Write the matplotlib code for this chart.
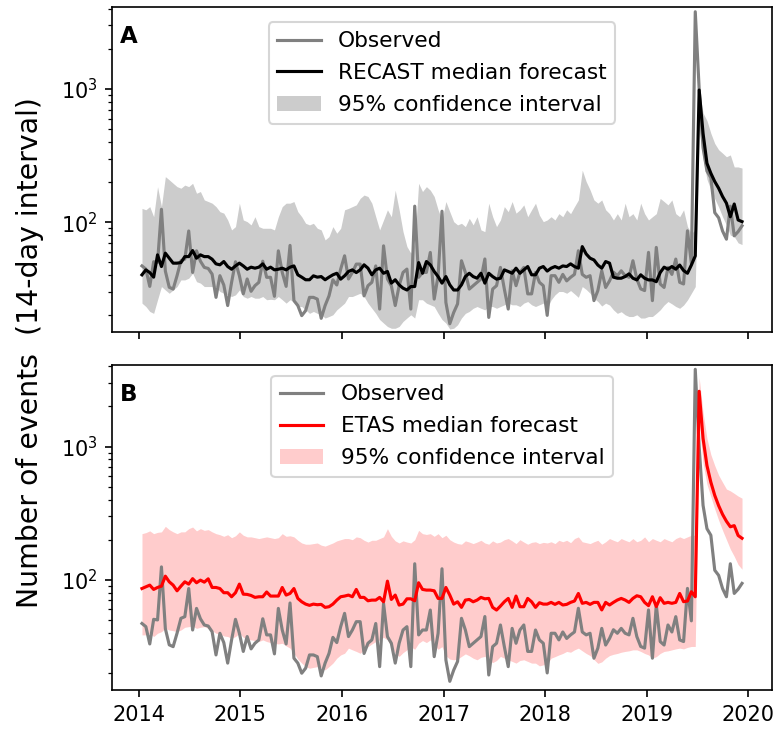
import numpy as np
import pandas as pd
import matplotlib
matplotlib.use("Agg")
import matplotlib.pyplot as plt
import matplotlib.dates as mdates

# 14-day bins, Jan 2014 - Dec 2019
dates = pd.date_range("2014-01-13", periods=155, freq="14D")

observed = [
    47, 44.5, 33, 50.5, 50, 125, 43, 32.5, 31.5, 39.7,
    51.4, 52.9, 86, 42, 61, 51, 45.8, 45, 40.8, 27.3,
    39.7, 33.8, 23.7, 35.4, 50.5, 39.7, 29, 37.5, 30.3, 33.4,
    35.4, 51, 38.6, 38.6, 27.8, 61, 42, 33, 67, 25.8,
    23.7, 19.9, 21.7, 27.3, 27.3, 26.5, 19, 23.7, 28, 37,
    33.8, 44.5, 56, 37.5, 42, 48.5, 48.5, 28, 33.4, 35.4,
    47, 22.3, 66.5, 37.5, 33.4, 23.7, 33.4, 42, 44.5, 22.3,
    132, 38.6, 42, 42, 59.3, 26.5, 39.7, 121, 25, 17.3,
    21, 24.4, 51.4, 42, 31.5, 33.4, 35.4, 37.5, 53, 19.3,
    31.5, 33.4, 45.8, 31.5, 22.3, 43.2, 33.4, 42, 45.8, 29,
    29, 42, 35.4, 33.4, 20, 39.7, 39.7, 35.4, 40.6, 36.3,
    38.6, 40.6, 61.1, 40.6, 38.6, 39.7, 25.8, 30.7, 43.2, 32.4,
    36.3, 42.2, 39.7, 43.2, 39.7, 38.6, 51.4, 37.5, 31.6, 30.7,
    59.4, 25.8, 64.7, 34.4, 32.4, 45.8, 40.6, 52.9, 35.4, 34.4,
    86.2, 49.2, 3800, 1000, 362, 242, 216, 118, 108, 86,
    74.6, 132, 79, 85, 94,
]

recast_med = [
    40.3, 43.9, 41.9, 38.7, 56.9, 46.5, 58.6, 53.7, 49.3, 49.3,
    49.8, 55.2, 55.2, 61.3, 53.7, 56.9, 55.2, 55.2, 52.8, 48.7,
    47.9, 50.7, 46.5, 44.4, 47, 49.3, 47, 44.4, 46, 45.2,
    46, 48.7, 44.4, 46, 43.9, 44.4, 45.2, 43.9, 46, 47,
    40.3, 38.7, 37, 37, 39.6, 38.7, 39.1, 37, 38.7, 40.3,
    41.4, 37.4, 39.6, 42.7, 43.9, 41.9, 43.9, 47.9, 45.2, 40.3,
    43.9, 45.2, 41.4, 42.7, 34.9, 37, 33.9, 32, 31, 32.9,
    32.9, 49.8, 41.4, 50.7, 47.9, 42.7, 39.1, 34.9, 39.1, 33.9,
    31, 31, 33.9, 39.1, 41.4, 39.1, 38, 41.4, 34.9, 41.4,
    39.1, 37.4, 38, 43.9, 42.7, 41.4, 45.2, 41.4, 43.9, 46.5,
    40.3, 40.3, 45.2, 46.5, 43, 45.2, 46.5, 45.2, 47, 46.5,
    48.7, 46.5, 45.2, 65.6, 57.8, 53.7, 52.1, 47.7, 45.2, 50.7,
    49.3, 38.7, 38, 38, 39.1, 41, 38, 36.9, 40.3, 38,
    36.9, 36.9, 35.8, 41.9, 46, 44.4, 46.5, 44.4, 47.7, 43.4,
    41.4, 47.7, 55.9, 982, 464, 277, 233, 202, 180, 156,
    139, 110, 137, 104, 101,
]

recast_lo = [
    24.7, 23.3, 21.4, 20.7, 26.2, 32.9, 31, 29.3, 31, 32.9,
    36.9, 36.9, 38, 41.4, 35.8, 34.9, 32.9, 32.9, 32.9, 32.9,
    30.2, 29.3, 28.5, 27.7, 28.5, 31, 27.7, 26.9, 27.7, 26.9,
    26.9, 27.7, 26.2, 26.4, 26.2, 27.7, 26.2, 24.7, 26.2, 25.4,
    23.3, 23.3, 22, 20.7, 21.4, 20.7, 20.2, 19.1, 19.6, 20.2,
    22, 23.3, 24.7, 27.7, 27.7, 28.5, 29.3, 27.7, 24.7, 22.6,
    20.7, 18.6, 17.5, 16.5, 16, 16, 16.5, 18, 19.1, 20.2,
    19.1, 26.2, 26.2, 24.7, 24, 23.3, 20.7, 18.6, 17.5, 15.8,
    16, 17, 19.1, 20.7, 21.4, 22.6, 23.3, 22.6, 22, 23.3,
    23.3, 22.6, 23.3, 24, 24.7, 24, 24, 23.3, 24.7, 25.4,
    24, 23.3, 24, 24.7, 22.5, 26.1, 28.5, 30.2, 30.2, 29.3,
    30.7, 29, 27.3, 32.9, 31.3, 29.3, 26.9, 25.4, 23.5, 24.7,
    23.9, 22, 20.7, 21.3, 20.2, 19.6, 19.6, 20.2, 19.1, 19.1,
    19.6, 19.6, 20.7, 22, 23.9, 25.4, 24.4, 23.3, 22.6, 23.9,
    26.1, 29.3, 32.9, 500, 300, 210, 175, 150, 130, 110,
    95, 80, 78, 70, 68,
]

recast_hi = [
    127, 124, 131, 110, 185, 131, 220, 208, 196, 185,
    180, 190, 185, 196, 165, 170, 147, 143, 139, 131,
    120, 117, 104, 87.6, 92.7, 139, 104, 101, 95.5, 110,
    92.7, 90.1, 90.1, 90.1, 87.6, 110, 131, 139, 139, 143,
    120, 110, 98.2, 95.5, 98.2, 90.1, 87.6, 73.7, 78, 92.7,
    82.7, 90.1, 124, 127, 131, 135, 151, 160, 156, 139,
    110, 87.6, 104, 124, 110, 174, 124, 85, 65.7, 58.6,
    69.5, 196, 170, 185, 174, 156, 124, 104, 143, 120,
    101, 95.5, 98.2, 92.7, 107, 95.5, 110, 87.6, 85, 139,
    110, 92.7, 104, 131, 120, 143, 117, 124, 135, 110,
    124, 139, 113, 101, 104, 110, 104, 116, 110, 124,
    116, 131, 147, 246, 202, 175, 147, 139, 147, 124,
    116, 104, 116, 104, 139, 110, 116, 104, 139, 116,
    104, 110, 116, 151, 143, 135, 147, 116, 110, 124,
    92.7, 82.6, 87.5, 1000, 660, 580, 465, 390, 350, 330,
    310, 320, 260, 260, 255,
]

etas_med = [
    86, 88.6, 91.2, 84.7, 87.6, 89.6, 106.5, 96.6, 91.2, 82.7,
    89.6, 96.6, 92.8, 102, 95, 99.4, 96, 101.7, 87.6, 87.6,
    86, 80, 80, 74.6, 80, 92.8, 78, 77.7, 76.3, 73.8,
    74.6, 74.6, 81, 75.5, 75.5, 75.5, 87.6, 76.8, 79, 86,
    72.5, 68.4, 65.7, 64.3, 65.7, 65, 65.4, 62.1, 62.8, 65.7,
    70.4, 74.6, 75.5, 76.8, 74.6, 84.7, 73.8, 73.8, 69.6, 70.4,
    70.4, 73.8, 68.4, 97.7, 71.2, 76.8, 64.6, 65.7, 72, 72,
    69.6, 95, 84.7, 83.7, 83.7, 82.7, 72.5, 72.5, 87.6, 76.8,
    65.7, 68.4, 62.1, 70.4, 71.2, 68.4, 70.4, 73.8, 72, 72.5,
    62.1, 59.3, 63.5, 68.4, 72.5, 62.1, 75.5, 62.8, 62.8, 72.5,
    68.4, 62.1, 67.3, 65.7, 65.7, 67.7, 65.4, 67.7, 64.7, 65.4,
    67.7, 69.3, 79, 66.6, 67.7, 65.4, 67.7, 67.7, 59.4, 67.7,
    64.7, 67.7, 70.5, 72.5, 70.5, 67.7, 72.5, 75.9, 74.6, 67.7,
    64, 74.6, 63, 73.4, 66.6, 67.7, 66.6, 67.7, 79, 68.5,
    69.3, 81.4, 74.6, 2600, 1150, 720, 540, 430, 360, 310,
    275, 250, 255, 215, 205,
]

etas_lo = [
    38.6, 38.6, 39.7, 37.5, 39.7, 40.8, 43.2, 42, 41.5, 40.8,
    42, 44, 44.5, 45, 43.2, 44, 44.5, 43.2, 41.5, 39.7,
    39.2, 37.9, 37.5, 36.4, 37.5, 39.7, 37, 35.7, 35.4, 35,
    34.4, 35.4, 34.4, 33.8, 33.4, 33, 33.4, 31.9, 30.7, 28.1,
    25.4, 23.7, 22.3, 21.7, 22, 22.3, 21.7, 21.1, 22.3, 23.7,
    25.8, 27.3, 28.1, 30.7, 29.8, 29, 28.1, 29.8, 31.5, 33,
    34.4, 35.4, 37, 35.4, 31.5, 28.1, 26.6, 28.4, 29.8, 31.5,
    30.1, 33.4, 35, 33.8, 35.4, 32.5, 30.1, 31.5, 26.9, 25.4,
    25.1, 25.4, 26.6, 27.8, 26.9, 25.8, 25.1, 26.2, 26.6, 25.1,
    23.9, 24.8, 26.6, 25.8, 25.1, 24.4, 23.7, 24.8, 25.1, 24.4,
    23.7, 23.7, 22.6, 23, 23.4, 25.8, 26.5, 27.3, 28, 29,
    28.6, 29.8, 30.7, 29.3, 28, 27, 25.2, 23.6, 24.2, 25.8,
    27, 27.6, 28, 28.6, 29, 29.3, 29.8, 29.8, 29, 28,
    27.3, 25.8, 26.5, 28, 29, 29.3, 29.8, 30.3, 30.7, 30.3,
    31.1, 31.6, 31.6, 1500, 750, 520, 420, 340, 280, 235,
    200, 170, 150, 130, 120,
]

etas_hi = [
    222, 226, 233, 222, 227, 229, 252, 238, 229, 222,
    229, 229, 242, 249, 233, 242, 235, 238, 229, 222,
    218, 212, 218, 207, 214, 229, 216, 210, 210, 207,
    204, 207, 210, 207, 204, 207, 222, 212, 214, 210,
    198, 189, 185, 185, 187, 189, 182, 179, 184, 189,
    196, 200, 204, 204, 200, 210, 207, 198, 192, 198,
    198, 204, 210, 242, 212, 196, 189, 196, 192, 189,
    200, 235, 222, 219, 222, 212, 222, 207, 216, 200,
    192, 187, 185, 196, 192, 187, 192, 198, 189, 185,
    196, 189, 192, 200, 204, 196, 187, 200, 192, 185,
    191, 193, 187, 191, 189, 193, 187, 198, 193, 198,
    190, 204, 210, 193, 190, 187, 193, 198, 185, 193,
    204, 198, 193, 204, 198, 193, 204, 193, 198, 210,
    193, 204, 198, 193, 204, 198, 193, 204, 210, 204,
    210, 216, 216, 3300, 1800, 1150, 870, 720, 610, 540,
    480, 465, 445, 425, 410,
]

fig, (ax1, ax2) = plt.subplots(2, 1, sharex=True, figsize=(777 / 150, 733 / 150), dpi=150)
fig.subplots_adjust(left=0.1441, right=0.9936, top=0.990, bottom=0.0587, hspace=0.10)

# panel A: RECAST
ax1.fill_between(dates, recast_lo, recast_hi, color="k", alpha=0.2, lw=0,
                 label="95% confidence interval")
ax1.plot(dates, observed, color="gray", lw=1.5, label="Observed")
ax1.plot(dates, recast_med, color="k", lw=1.5, label="RECAST median forecast")
h, l = ax1.get_legend_handles_labels()
ax1.legend([h[1], h[2], h[0]], [l[1], l[2], l[0]], loc="upper center",
           fontsize=10.4, labelspacing=0.55, borderaxespad=0.7)
ax1.text(0.012, 0.945, "A", transform=ax1.transAxes, fontsize=11,
         fontweight="bold", va="top", ha="left")

# panel B: ETAS
ax2.fill_between(dates, etas_lo, etas_hi, color="r", alpha=0.2, lw=0,
                 label="95% confidence interval")
ax2.plot(dates, observed, color="gray", lw=1.5, label="Observed")
ax2.plot(dates, etas_med, color="r", lw=1.5, label="ETAS median forecast")
h, l = ax2.get_legend_handles_labels()
ax2.legend([h[1], h[2], h[0]], [l[1], l[2], l[0]], loc="upper center",
           fontsize=10.4, labelspacing=0.55, borderaxespad=0.5)
ax2.text(0.012, 0.945, "B", transform=ax2.transAxes, fontsize=11,
         fontweight="bold", va="top", ha="left")

for ax in (ax1, ax2):
    ax.set_yscale("log")
    ax.set_ylim(14.9, 4100)

ax2.xaxis.set_major_locator(mdates.YearLocator())
ax2.xaxis.set_major_formatter(mdates.DateFormatter("%Y"))

fig.text(0.038, 0.519, "Number of events  (14-day interval)", rotation=90,
         va="center", ha="center", fontsize=13.6)

fig.savefig("out.png", dpi=150)
